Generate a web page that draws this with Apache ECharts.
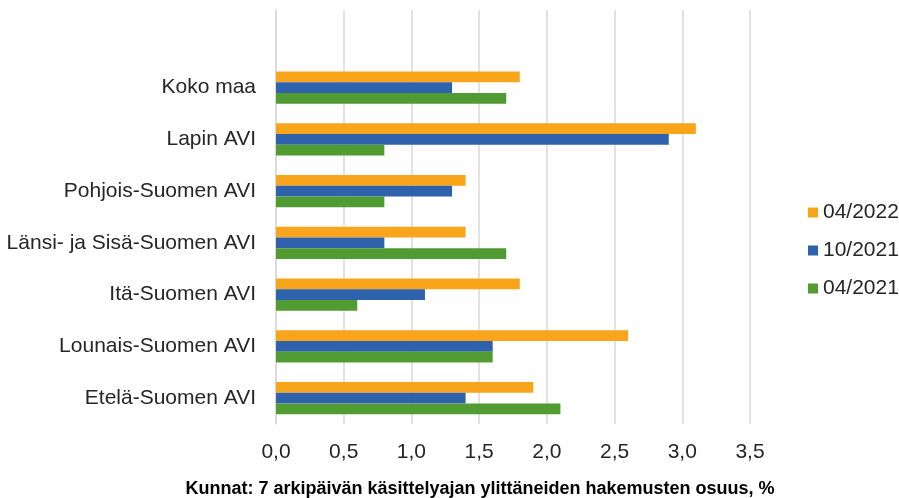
<!DOCTYPE html>
<html>
<head>
<meta charset="utf-8">
<script src="https://cdn.jsdelivr.net/npm/echarts@6/dist/echarts.min.js"></script>
<style>
  html, body { margin: 0; padding: 0; background: #fff; }
  #chart { width: 899px; height: 498px; }
</style>
</head>
<body>
<div id="chart"></div>
<script>
// bottom to top; the blank top row leaves the empty band above "Koko maa"
const regions = ['Etelä-Suomen AVI', 'Lounais-Suomen AVI', 'Itä-Suomen AVI', 'Länsi- ja Sisä-Suomen AVI', 'Pohjois-Suomen AVI', 'Lapin AVI', 'Koko maa', '']
const apr2022 = [1.9, 2.6, 1.8, 1.4, 1.4, 3.1, 1.8, null]
const oct2021 = [1.4, 1.6, 1.1, 0.8, 1.3, 2.9, 1.3, null]
const apr2021 = [2.1, 1.6, 0.6, 1.7, 0.8, 0.8, 1.7, null]
const legendOrder = ['04/2022', '10/2021', '04/2021']
const xTitle = 'Kunnat: 7 arkipäivän käsittelyajan ylittäneiden hakemusten osuus, %'

const orange = '#f9a51b'
const blue = '#2f62ad'
const green = '#519b33'
const font = '"Liberation Sans", Arial, sans-serif'

const chart = echarts.init(document.getElementById('chart'))

chart.setOption({
  animation: false,
  textStyle: { fontFamily: font },
  title: {
    text: xTitle,
    left: 480,
    top: 480,
    textAlign: 'center',
    padding: 0,
    textStyle: { fontSize: 18, fontWeight: 'bold', color: '#000', fontFamily: font },
  },
  legend: {
    orient: 'vertical',
    left: 808,
    top: 202,
    padding: 0,
    itemWidth: 10,
    itemHeight: 10,
    itemGap: 17,
    icon: 'rect',
    data: legendOrder,
    textStyle: { fontSize: 21, color: '#262626', fontFamily: font },
  },
  grid: { left: 276, right: 149, top: 10, bottom: 74, containLabel: false },
  xAxis: {
    type: 'value',
    min: 0,
    max: 3.5,
    interval: 0.5,
    axisLine: { show: false },
    axisTick: { show: false },
    splitLine: { lineStyle: { color: '#d9d9d9', width: 1.5 } },
    axisLabel: {
      fontSize: 21,
      color: '#262626',
      margin: 18,
      formatter: (v) => v.toFixed(1).replace('.', ','),
    },
  },
  yAxis: {
    type: 'category',
    data: regions,
    axisLine: { show: true, lineStyle: { color: '#d9d9d9', width: 1.5 } },
    axisTick: { show: false },
    axisLabel: { fontSize: 21, color: '#262626', margin: 20 },
  },
  series: [
    { name: '04/2022', type: 'bar', data: apr2022, itemStyle: { color: orange }, barGap: '0%', barCategoryGap: '38%' },
    { name: '10/2021', type: 'bar', data: oct2021, itemStyle: { color: blue }, barGap: '0%', barCategoryGap: '38%' },
    { name: '04/2021', type: 'bar', data: apr2021, itemStyle: { color: green }, barGap: '0%', barCategoryGap: '38%' },
  ],
})
</script>
</body>
</html>
